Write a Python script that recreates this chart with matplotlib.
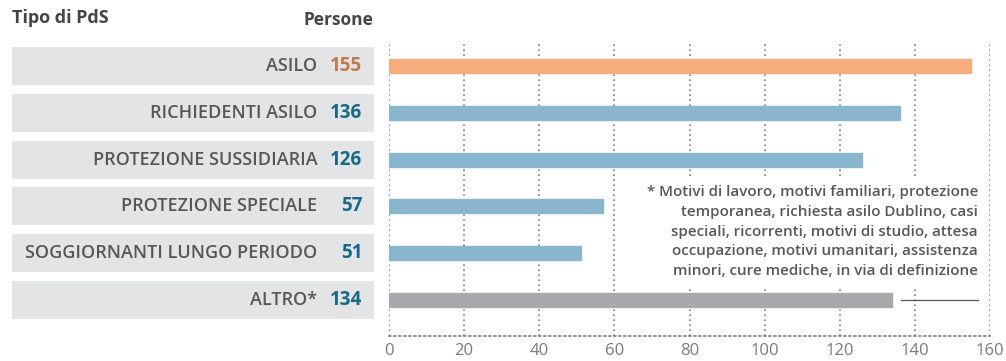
import matplotlib.pyplot as plt

plt.rcParams["font.family"] = ["Open Sans", "DejaVu Sans"]

categories = [
    "ASILO",
    "RICHIEDENTI ASILO",
    "PROTEZIONE SUSSIDIARIA",
    "PROTEZIONE SPECIALE",
    "SOGGIORNANTI LUNGO PERIODO",
    "ALTRO*",
]
persone = [155, 136, 126, 57, 51, 134]
bar_colors = ["#F6AC7D", "#88B6CD", "#88B6CD", "#88B6CD", "#88B6CD", "#A8A9AC"]
value_colors = ["#C27A4C", "#17698A", "#17698A", "#17698A", "#17698A", "#17698A"]
xticks = [0, 20, 40, 60, 80, 100, 120, 140, 160]

footnote = (
    "* Motivi di lavoro, motivi familiari, protezione\n"
    "temporanea, richiesta asilo Dublino, casi\n"
    "speciali, ricorrenti, motivi di studio, attesa\n"
    "occupazione, motivi umanitari, assistenza\n"
    "minori, cure mediche, in via di definizione"
)

W, H = 1006, 361
fig = plt.figure(figsize=(W / 100, H / 100), dpi=100)

ylim = (len(categories) - 1 + 0.77, -0.49)
ax_bottom = (H - 336) / H
ax_height = (336 - 43) / H

# left panel: label boxes
axl = fig.add_axes([12 / W, ax_bottom, 362 / W, ax_height])
ypos = list(range(len(categories)))
axl.barh(ypos, [1] * len(categories), height=0.81, color="#E3E4E6", left=0)
axl.set_xlim(0, 1)
axl.set_ylim(*ylim)
axl.axis("off")
for i, (cat, val) in enumerate(zip(categories, persone)):
    axl.text(0.843, i, cat, ha="right", va="center", fontsize=13,
             fontweight="semibold", color="#575757")
    axl.text(0.968, i, str(val), ha="right", va="center", fontsize=13.5,
             fontweight="bold", color=value_colors[i])

fig.text(12 / W, 1 - 18 / H, "Tipo di PdS", ha="left", va="center",
         fontsize=13, fontweight="bold", color="#454545")
fig.text(373 / W, 1 - 20 / H, "Persone", ha="right", va="center",
         fontsize=12.5, fontweight="bold", color="#454545")

# bar chart
ax = fig.add_axes([389 / W, ax_bottom, 601 / W, ax_height])
ax.barh(ypos, persone, height=0.3, color=bar_colors, zorder=3,
        edgecolor=bar_colors, linewidth=1, joinstyle="round")
ax.set_xlim(0, 160)
ax.set_ylim(*ylim)
ax.set_xticks(xticks)
ax.set_yticks([])
ax.tick_params(axis="x", length=0, pad=5, labelsize=12, labelcolor="#7A7A7A")
ax.grid(axis="x", linestyle=(0, (1, 2)), color="#7F7F7F", linewidth=1.2, zorder=0)
for side in ["top", "right", "left"]:
    ax.spines[side].set_visible(False)
ax.spines["bottom"].set_linestyle((0, (1, 2)))
ax.spines["bottom"].set_color("#7F7F7F")
ax.spines["bottom"].set_linewidth(1.2)

note_x = 156.8
ax.text(note_x, 3.54, footnote, ha="right", va="center", fontsize=10.9,
        fontweight="semibold", color="#575757", linespacing=1.53, zorder=4,
        bbox=dict(facecolor="white", edgecolor="none", pad=6))
ax.plot([136.2, note_x], [5, 5], color="#555555", linewidth=0.9, zorder=4)

fig.savefig("out.png", dpi=100)
